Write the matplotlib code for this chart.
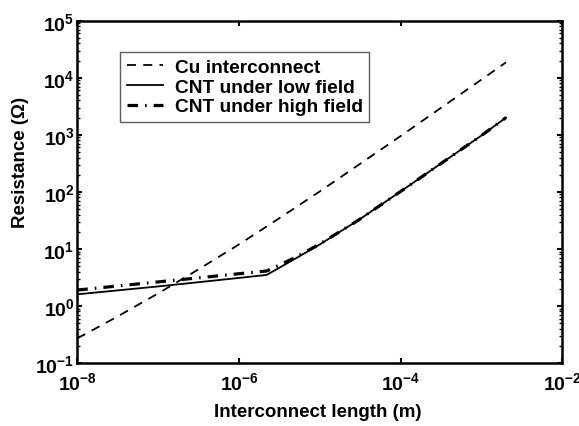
import matplotlib
matplotlib.use("Agg")
import matplotlib.pyplot as plt
from matplotlib.ticker import LogLocator, LogFormatterSciNotation, NullLocator, NullFormatter

# ---- data ----
length_cu = [1e-8, 3e-8, 1e-7, 3e-7, 1e-6, 3e-6, 1e-5, 1e-4, 1e-3, 2e-3]
res_cu = [0.27, 0.63, 1.66, 4.2, 12.0, 33, 102, 955, 9330, 18600]

length_cnt = [1e-8, 1e-7, 1e-6, 2.2e-6, 5e-6, 1e-5, 3e-5, 1e-4, 3e-4, 1e-3, 2e-3]
res_cnt_low = [1.6, 2.2, 3.1, 3.5, 6.8, 12.0, 32, 102, 300, 977, 2000]
res_cnt_high = [1.9, 2.64, 3.67, 4.1, 7.1, 12.2, 32, 102, 300, 977, 2000]

labels = ["Cu interconnect", "CNT under low field", "CNT under high field"]
x_label = "Interconnect length (m)"
y_label = "Resistance (\u03a9)"

plt.rcParams['font.family'] = ['Liberation Sans', 'DejaVu Sans']
plt.rcParams['font.weight'] = 'bold'
plt.rcParams['mathtext.fontset'] = 'custom'
plt.rcParams['mathtext.rm'] = 'Liberation Sans:bold'
plt.rcParams['mathtext.bf'] = 'Liberation Sans:bold'
plt.rcParams['mathtext.it'] = 'Liberation Sans:bold'
plt.rcParams['mathtext.default'] = 'rm'

fig = plt.figure(figsize=(5.79, 4.27), dpi=100)
ax = fig.add_axes([0.1335, 0.1475, 0.838, 0.8017])

ax.plot(length_cu, res_cu, color='black', lw=1.3, linestyle=(0, (5, 4)), label=labels[0])
ax.plot(length_cnt, res_cnt_low, color='black', lw=1.3, linestyle='-', label=labels[1])
ax.plot(length_cnt, res_cnt_high, color='black', lw=2.3,
        linestyle=(0, (3.3, 2.2, 0.5, 2.2)), label=labels[2])

ax.set_xscale('log')
ax.set_yscale('log')
ax.set_xlim(1e-8, 1e-2)
ax.set_ylim(1e-1, 1e5)

ax.xaxis.set_major_locator(LogLocator(base=100.0, numticks=10))
ax.xaxis.set_minor_locator(NullLocator())
ax.yaxis.set_major_locator(LogLocator(base=10.0, numticks=10))
ax.yaxis.set_minor_locator(LogLocator(base=10.0, subs=range(2, 10), numticks=20))
ax.xaxis.set_major_formatter(LogFormatterSciNotation())
ax.yaxis.set_major_formatter(LogFormatterSciNotation())
ax.xaxis.set_minor_formatter(NullFormatter())
ax.yaxis.set_minor_formatter(NullFormatter())

for s in ax.spines.values():
    s.set_linewidth(1.8)

ax.tick_params(which='major', direction='in', length=3.5, width=1.5,
               top=True, right=True, labelsize=14)
ax.tick_params(axis='x', which='major', pad=6)
ax.tick_params(axis='y', which='major', pad=2)
ax.tick_params(which='minor', direction='in', length=2, width=1.0,
               top=True, right=True)

ax.set_xlabel(x_label, fontsize=13.5, fontweight='bold')
ax.set_ylabel(y_label, fontsize=13.5, fontweight='bold')
ax.xaxis.set_label_coords(0.496, -0.117)
ax.yaxis.set_label_coords(-0.1, 0.59)

leg = ax.legend(loc='upper left', bbox_to_anchor=(0.088, 0.909), borderaxespad=0,
                frameon=True, fancybox=False, edgecolor='#333333',
                handlelength=1.9, handletextpad=0.6, labelspacing=0.12,
                borderpad=0.35, prop={'weight': 'bold', 'size': 13.8})
leg.get_frame().set_linewidth(1.0)

fig.savefig("out.png", dpi=100)
